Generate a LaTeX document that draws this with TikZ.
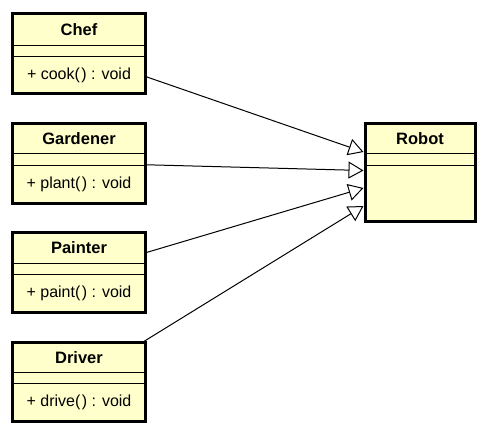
\documentclass[tikz,border=0pt]{standalone}
\usepackage{fontspec}
\setmainfont{Liberation Sans}
\usetikzlibrary{arrows.meta}
\definecolor{classfill}{HTML}{FFFFCC}
\tikzset{
  classbox/.style={draw=black, line width=3pt, fill=classfill, rectangle, inner sep=0pt, outer sep=0pt, anchor=north west},
  divider/.style={draw=black, line width=1pt},
  classname/.style={font=\fontsize{16.5}{19}\selectfont\bfseries, inner sep=0pt},
  classop/.style={font=\fontsize{16}{19}\selectfont, inner sep=0pt},
  gen/.style={draw=black, line width=1pt, -{Triangle[open, length=15pt, width=17pt, fill=white, line width=1pt]}}
}
\begin{document}
\begin{tikzpicture}[x=1pt, y=-1pt]
\useasboundingbox (0,0) rectangle (492,442);
% Chef
\node[classbox, minimum width=133pt, minimum height=80pt] (chef) at (12.5,13.5) {};
\draw[divider] (12.5,45) -- (145.5,45);
\draw[divider] (12.5,56) -- (145.5,56);
\node[classname] (chefname) at (79,29.5) {Chef};
\node[classop] (chefop) at (79,75) {+ cook(\kern1.5pt) : void};
% Gardener
\node[classbox, minimum width=133pt, minimum height=80pt] (gardener) at (12.5,123) {};
\draw[divider] (12.5,153.5) -- (145.5,153.5);
\draw[divider] (12.5,165) -- (145.5,165);
\node[classname] (gardenername) at (79,138.5) {Gardener};
\node[classop] (gardenerop) at (79,184) {+ plant(\kern1.5pt) : void};
% Painter
\node[classbox, minimum width=133pt, minimum height=80pt] (painter) at (12.5,232.5) {};
\draw[divider] (12.5,263.5) -- (145.5,263.5);
\draw[divider] (12.5,274.5) -- (145.5,274.5);
\node[classname] (paintername) at (79,248) {Painter};
\node[classop] (painterop) at (79,293.5) {+ paint(\kern1.5pt) : void};
% Driver
\node[classbox, minimum width=133pt, minimum height=79pt] (driver) at (12.5,342) {};
\draw[divider] (12.5,372.5) -- (145.5,372.5);
\draw[divider] (12.5,383.5) -- (145.5,383.5);
\node[classname] (drivername) at (79,357.5) {Driver};
\node[classop] (driverop) at (79,402.5) {+ drive(\kern1.5pt) : void};
% Robot
\node[classbox, minimum width=110.5pt, minimum height=98.5pt] (robot) at (365,123.3) {};
\draw[divider] (365,153.5) -- (475.5,153.5);
\draw[divider] (365,165) -- (475.5,165);
\node[classname] (robotname) at (420,138.5) {Robot};
% arrow tips on Robot's left side
\coordinate (t1) at (363.5,152);
\coordinate (t2) at (363.5,170.5);
\coordinate (t3) at (363.5,188);
\coordinate (t4) at (363.5,206);
\draw[gen] (chef) -- (t1);
\draw[gen] (gardener) -- (t2);
\draw[gen] (painter) -- (t3);
\draw[gen] (driver) -- (t4);
\end{tikzpicture}
\end{document}
